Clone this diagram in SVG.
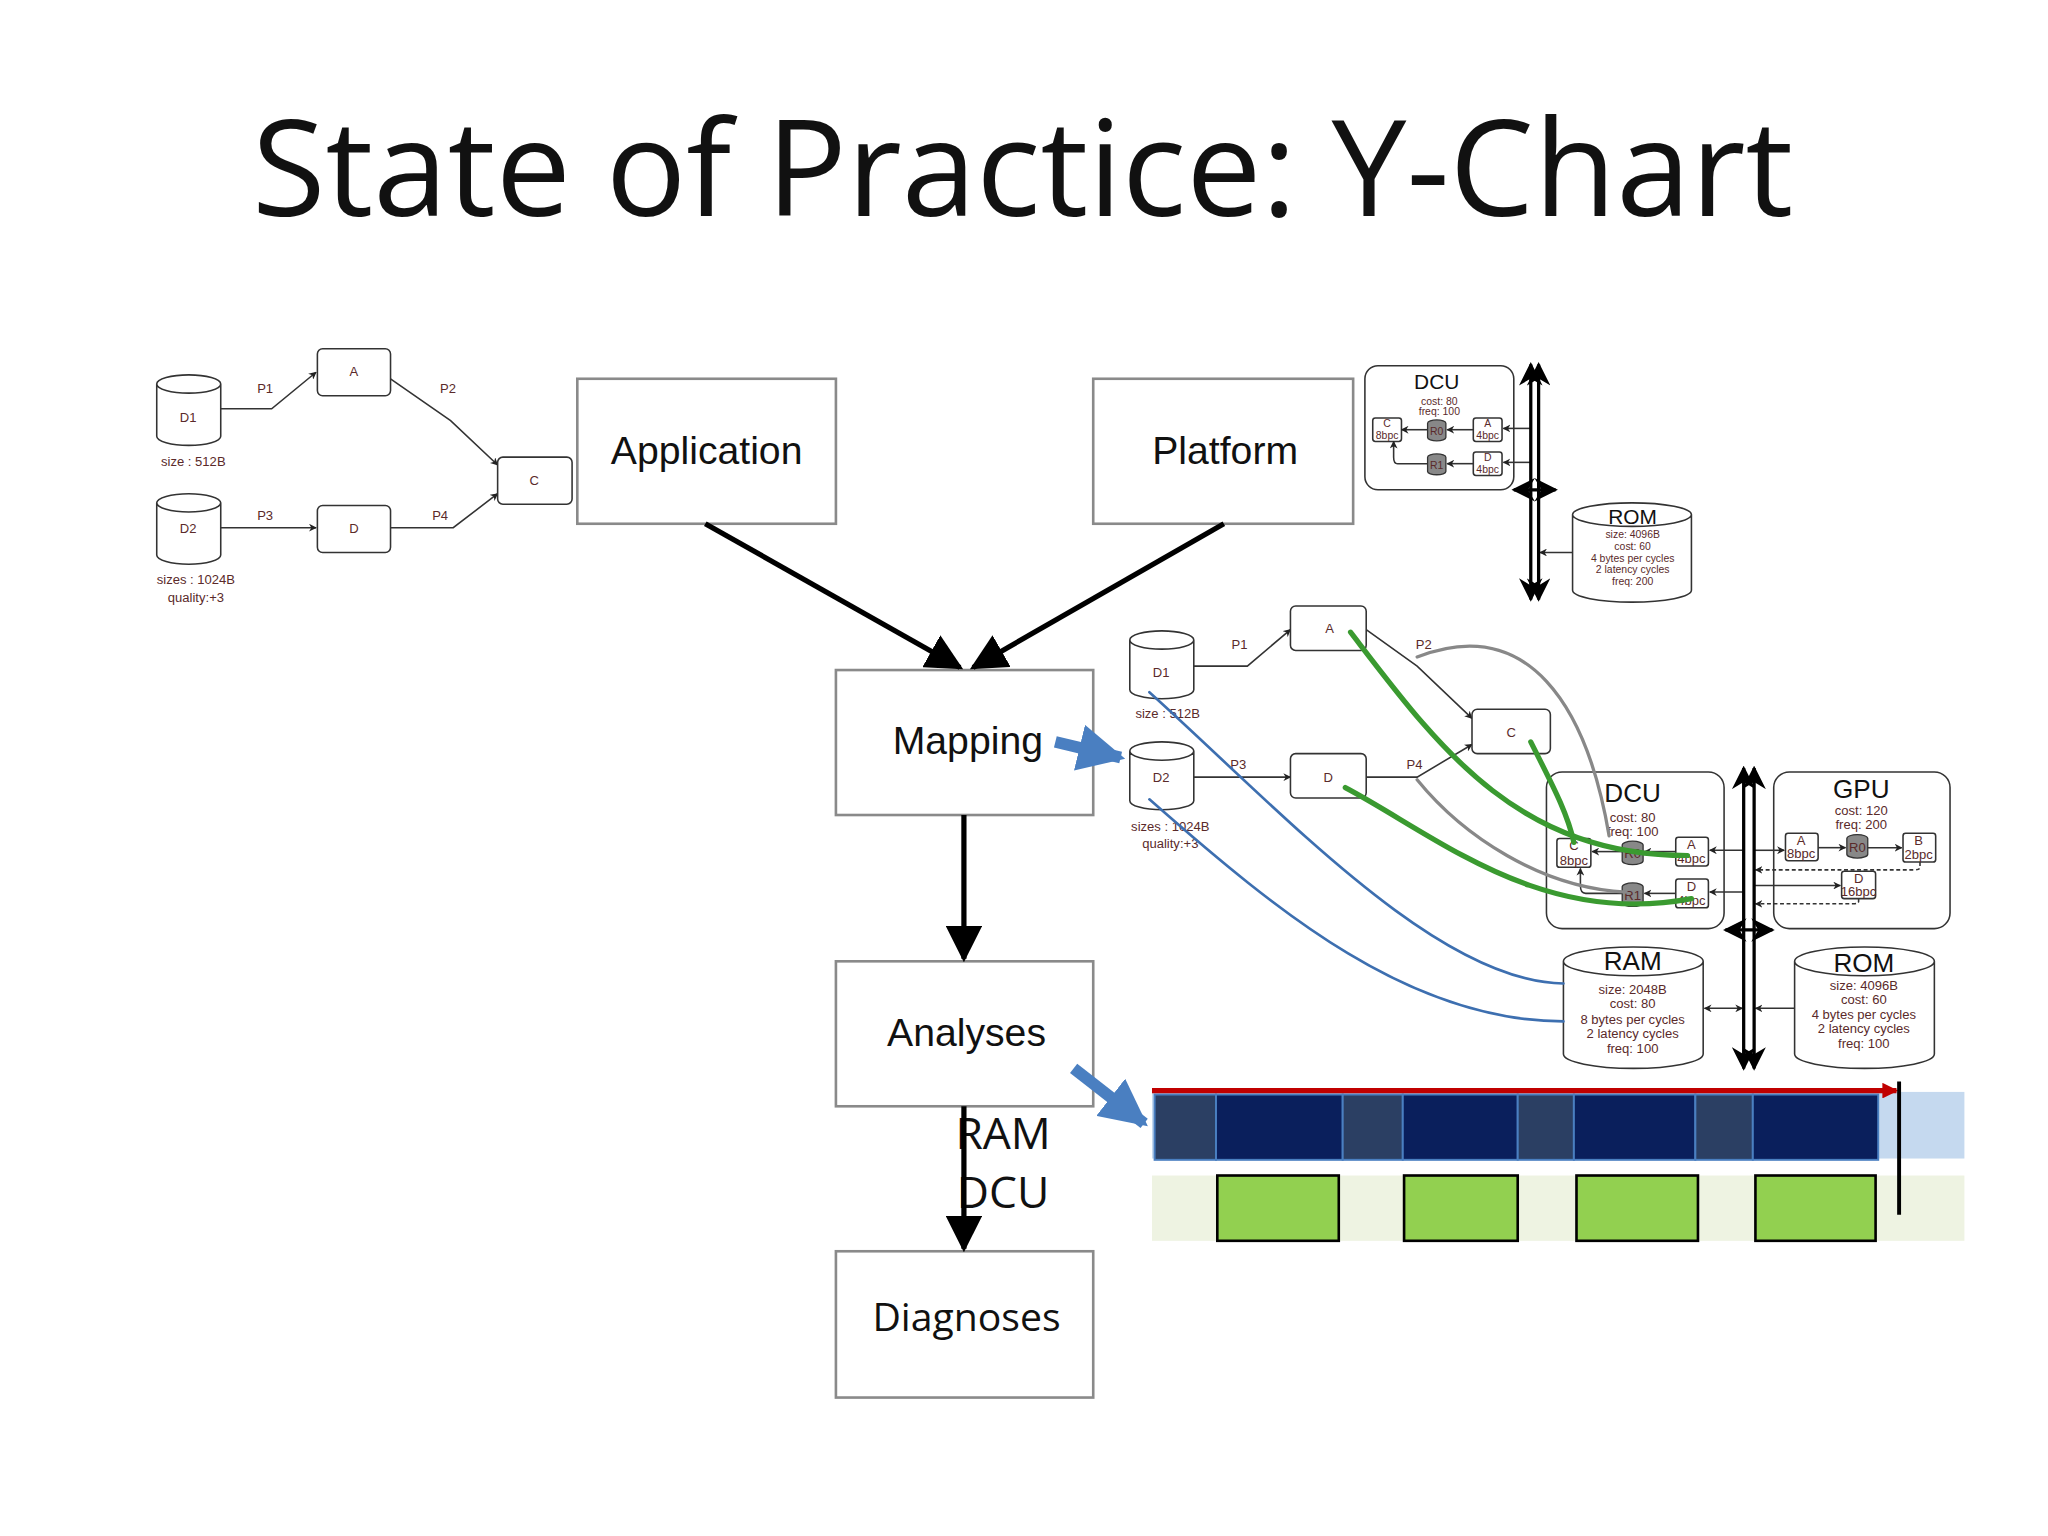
<svg xmlns="http://www.w3.org/2000/svg" width="2048" height="1536" viewBox="0 0 2048 1536">
<style>
.bx{fill:#fff;stroke:#8a8a8a;stroke-width:2}
.big{font-family:"Liberation Sans",Arial,sans-serif;font-size:30px;fill:#111;text-anchor:middle}
.cal{font-family:"Open Sans","Noto Sans",sans-serif;fill:#111;text-anchor:middle}
.sm{font-family:"Liberation Sans",Arial,sans-serif;font-size:10px;fill:#5a2a2a;text-anchor:middle}
.xs{font-family:"Liberation Sans",Arial,sans-serif;font-size:8px;fill:#5a2a2a;text-anchor:middle}
.t{font-family:"Liberation Sans",Arial,sans-serif;fill:#111;text-anchor:middle}
.nd{fill:#fff;stroke:#333;stroke-width:1.2}
.ln{fill:none;stroke:#333;stroke-width:1.2}
.cy{fill:#888;stroke:#333;stroke-width:1}
.bus{stroke:#000;stroke-width:2.5;fill:none}
</style>
<defs>
<marker id="ah" viewBox="0 0 10 10" refX="9" refY="5" markerWidth="6" markerHeight="6" orient="auto-start-reverse" markerUnits="userSpaceOnUse"><path d="M0,0L10,5L0,10L3,5z" fill="#222"/></marker>
<marker id="big" viewBox="0 0 10 10" refX="9" refY="5" markerWidth="7" markerHeight="7" orient="auto" markerUnits="strokeWidth"><path d="M0,0L10,5L0,10z" fill="#000"/></marker>
<marker id="bh" viewBox="0 0 10 10" refX="9" refY="5" markerWidth="18" markerHeight="18" orient="auto-start-reverse" markerUnits="userSpaceOnUse"><path d="M0,0L10,5L0,10L3,5z" fill="#000"/></marker>
<marker id="blu" viewBox="0 0 10 10" refX="9" refY="5" markerWidth="4" markerHeight="4" orient="auto" markerUnits="strokeWidth"><path d="M0,0L10,5L0,10z" fill="#4a7fc1"/></marker>
<marker id="red" viewBox="0 0 10 10" refX="9" refY="5" markerWidth="3" markerHeight="3" orient="auto" markerUnits="strokeWidth"><path d="M0,0L10,5L0,10z" fill="#c00000"/></marker>
</defs>
<rect width="2048" height="1536" fill="#fff"/>
<g transform="scale(1.306122)">
<text x="783" y="165" class="cal" font-size="102" fill="#262626" textLength="1180" lengthAdjust="spacingAndGlyphs">State of Practice: Y-Chart</text>

<g id="application"><rect class="bx" x="442" y="290" width="198" height="111"/><text class="big" x="541" y="355">Application</text></g>
<g id="platform"><rect class="bx" x="837" y="290" width="199" height="111"/><text class="big" x="938" y="355">Platform</text></g>
<g id="mapping"><rect class="bx" x="640" y="513" width="197" height="111"/><text class="big" x="741" y="577">Mapping</text></g>
<g id="analyses"><rect class="bx" x="640" y="736" width="197" height="111"/><text class="big" x="740" y="801">Analyses</text></g>
<g id="diagnoses"><rect class="bx" x="640" y="958" width="197" height="112"/><text class="cal" font-size="30" x="740" y="1019">Diagnoses</text></g>
<text class="cal" font-size="34" x="768" y="880" text-anchor="start">RAM</text>
<text class="cal" font-size="34" x="768" y="925" text-anchor="start">DCU</text>

<g id="connectors">
<line x1="540" y1="401" x2="735" y2="511" stroke="#000" stroke-width="4" marker-end="url(#big)"/>
<line x1="937" y1="401" x2="745" y2="511" stroke="#000" stroke-width="4" marker-end="url(#big)"/>
<line x1="738" y1="624" x2="738" y2="734" stroke="#000" stroke-width="4" marker-end="url(#big)"/>
<line x1="738" y1="847" x2="738" y2="956" stroke="#000" stroke-width="4" marker-end="url(#big)"/>
<line x1="808" y1="568" x2="858" y2="580" stroke="#4a7fc1" stroke-width="9" marker-end="url(#blu)"/>
<line x1="822" y1="818" x2="876" y2="860" stroke="#4a7fc1" stroke-width="9" marker-end="url(#blu)"/>
</g>

<!-- left application graph -->
<g id="app-graph">
<g class="ln">
<path d="M169,313H208L242,285" marker-end="url(#ah)"/>
<path d="M299,290L345,322L381,356" marker-end="url(#ah)"/>
<path d="M169,404H242" marker-end="url(#ah)"/>
<path d="M299,404H347L381,378" marker-end="url(#ah)"/>
</g>
<path class="nd" d="M120,294a24.5,7 0 0 1 49,0v40a24.5,7 0 0 1 -49,0z M120,294a24.5,7 0 0 0 49,0"/>
<path class="nd" d="M120,385a24.5,7 0 0 1 49,0v40a24.5,7 0 0 1 -49,0z M120,385a24.5,7 0 0 0 49,0"/>
<rect class="nd" x="243" y="267" width="56" height="36" rx="4"/>
<rect class="nd" x="381" y="350" width="57" height="36" rx="4"/>
<rect class="nd" x="243" y="387" width="56" height="36" rx="4"/>
<text class="sm" x="144" y="323">D1</text><text class="sm" x="144" y="408">D2</text>
<text class="sm" x="271" y="288">A</text><text class="sm" x="409" y="371">C</text><text class="sm" x="271" y="408">D</text>
<text class="sm" x="148" y="357">size : 512B</text>
<text class="sm" x="150" y="447">sizes : 1024B</text><text class="sm" x="150" y="461">quality:+3</text>
<text class="sm" x="203" y="301">P1</text><text class="sm" x="343" y="301">P2</text>
<text class="sm" x="203" y="398">P3</text><text class="sm" x="337" y="398">P4</text>
</g>

<!-- platform graph -->
<g id="plat-graph">
<rect class="nd" x="1045" y="280" width="114" height="95" rx="10"/>
<text class="t" font-size="16" x="1100" y="298">DCU</text>
<text class="xs" x="1102" y="310">cost: 80</text><text class="xs" x="1102" y="318">freq: 100</text>
<rect class="nd" x="1051" y="320" width="22" height="18" rx="2"/><text class="xs" x="1062" y="327" fill="#111">C</text><text class="xs" x="1062" y="336" fill="#111">8bpc</text>
<rect class="nd" x="1128" y="320" width="22" height="18" rx="2"/><text class="xs" x="1139" y="327" fill="#111">A</text><text class="xs" x="1139" y="336" fill="#111">4bpc</text>
<rect class="nd" x="1128" y="346" width="22" height="18" rx="2"/><text class="xs" x="1139" y="353" fill="#111">D</text><text class="xs" x="1139" y="362" fill="#111">4bpc</text>
<path class="cy" d="M1093,324a7,2.5 0 0 1 14,0v11a7,2.5 0 0 1 -14,0z"/><text class="xs" x="1100" y="333" fill="#111">R0</text>
<path class="cy" d="M1093,350a7,2.5 0 0 1 14,0v11a7,2.5 0 0 1 -14,0z"/><text class="xs" x="1100" y="359" fill="#111">R1</text>
<g class="ln" stroke-width="1">
<path d="M1128,329H1108" marker-end="url(#ah)"/><path d="M1093,329H1073" marker-end="url(#ah)"/>
<path d="M1128,355H1108" marker-end="url(#ah)"/><path d="M1093,355H1070Q1067,355 1067,350V338" marker-end="url(#ah)"/>
<path d="M1172,328H1151" marker-end="url(#ah)"/><path d="M1172,354H1151" marker-end="url(#ah)"/>
<path d="M1204,423H1179" marker-end="url(#ah)"/>
</g>
<line class="bus" x1="1172" y1="279" x2="1172" y2="459" marker-start="url(#bh)" marker-end="url(#bh)"/>
<line class="bus" x1="1178" y1="279" x2="1178" y2="459" marker-start="url(#bh)" marker-end="url(#bh)"/>
<line class="bus" x1="1159" y1="375" x2="1191" y2="375" marker-start="url(#bh)" marker-end="url(#bh)"/>
<path class="nd" d="M1204,394a45.5,9 0 0 1 91,0v58a45.5,9 0 0 1 -91,0z M1204,394a45.5,9 0 0 0 91,0"/>
<text class="t" font-size="16" x="1250" y="401">ROM</text>
<text class="xs" x="1250" y="412">size: 4096B</text><text class="xs" x="1250" y="421">cost: 60</text>
<text class="xs" x="1250" y="430">4 bytes per cycles</text><text class="xs" x="1250" y="439">2 latency cycles</text><text class="xs" x="1250" y="448">freq: 200</text>
</g>

<!-- mapping graph -->
<g id="map-graph">
<g class="ln">
<path d="M914,510H955L988,482" marker-end="url(#ah)"/>
<path d="M1046,482L1085,510L1127,550" marker-end="url(#ah)"/>
<path d="M914,595H988" marker-end="url(#ah)"/>
<path d="M1046,595H1085L1127,570" marker-end="url(#ah)"/>
</g>
<path class="nd" d="M865,490a24.5,7 0 0 1 49,0v38a24.5,7 0 0 1 -49,0z M865,490a24.5,7 0 0 0 49,0"/>
<path class="nd" d="M865,575a24.5,7 0 0 1 49,0v38a24.5,7 0 0 1 -49,0z M865,575a24.5,7 0 0 0 49,0"/>
<rect class="nd" x="988" y="464" width="58" height="34" rx="4"/>
<rect class="nd" x="1127" y="543" width="60" height="34" rx="4"/>
<rect class="nd" x="988" y="577" width="58" height="34" rx="4"/>
<text class="sm" x="889" y="518">D1</text><text class="sm" x="889" y="599">D2</text>
<text class="sm" x="1018" y="485">A</text><text class="sm" x="1157" y="564">C</text><text class="sm" x="1017" y="599">D</text>
<text class="sm" x="894" y="550">size : 512B</text>
<text class="sm" x="896" y="636">sizes : 1024B</text><text class="sm" x="896" y="649">quality:+3</text>
<text class="sm" x="949" y="497">P1</text><text class="sm" x="1090" y="497">P2</text>
<text class="sm" x="948" y="589">P3</text><text class="sm" x="1083" y="589">P4</text>

<!-- DCU -->
<rect class="nd" x="1184" y="591" width="136" height="120" rx="12"/>
<text class="t" font-size="20" x="1250" y="614">DCU</text>
<text class="sm" x="1250" y="629">cost: 80</text><text class="sm" x="1250" y="640">freq: 100</text>
<rect class="nd" x="1192" y="642" width="26" height="22" rx="2"/><text class="sm" x="1205" y="651" fill="#111">C</text><text class="sm" x="1205" y="662" fill="#111">8bpc</text>
<rect class="nd" x="1283" y="641" width="25" height="22" rx="2"/><text class="sm" x="1295" y="650" fill="#111">A</text><text class="sm" x="1295" y="661" fill="#111">4bpc</text>
<rect class="nd" x="1283" y="673" width="25" height="22" rx="2"/><text class="sm" x="1295" y="682" fill="#111">D</text><text class="sm" x="1295" y="693" fill="#111">4bpc</text>
<path class="cy" d="M1242,647a8,3 0 0 1 16,0v12a8,3 0 0 1 -16,0z"/><text class="sm" x="1250" y="657" fill="#111">R0</text>
<path class="cy" d="M1242,679a8,3 0 0 1 16,0v12a8,3 0 0 1 -16,0z"/><text class="sm" x="1250" y="689" fill="#111">R1</text>
<!-- GPU -->
<rect class="nd" x="1358" y="591" width="135" height="120" rx="12"/>
<text class="t" font-size="20" x="1425" y="611">GPU</text>
<text class="sm" x="1425" y="624">cost: 120</text><text class="sm" x="1425" y="635">freq: 200</text>
<rect class="nd" x="1367" y="638" width="25" height="21" rx="2"/><text class="sm" x="1379" y="647" fill="#111">A</text><text class="sm" x="1379" y="657" fill="#111">8bpc</text>
<rect class="nd" x="1457" y="638" width="25" height="22" rx="2"/><text class="sm" x="1469" y="647" fill="#111">B</text><text class="sm" x="1469" y="658" fill="#111">2bpc</text>
<rect class="nd" x="1410" y="667" width="26" height="21" rx="2"/><text class="sm" x="1423" y="676" fill="#111">D</text><text class="sm" x="1423" y="686" fill="#111">16bpc</text>
<path class="cy" d="M1414,642a8,3 0 0 1 16,0v12a8,3 0 0 1 -16,0z"/><text class="sm" x="1422" y="652" fill="#111">R0</text>
<g class="ln" stroke-width="1">
<path d="M1283,652H1259" marker-end="url(#ah)"/><path d="M1242,652H1219" marker-end="url(#ah)"/>
<path d="M1283,684H1259" marker-end="url(#ah)"/><path d="M1242,684H1214Q1210,684 1210,678V665" marker-end="url(#ah)"/>
<path d="M1335,651H1309" marker-end="url(#ah)"/><path d="M1335,683H1309" marker-end="url(#ah)"/>
<path d="M1343,651H1366" marker-end="url(#ah)"/><path d="M1392,649H1413" marker-end="url(#ah)"/><path d="M1430,649H1456" marker-end="url(#ah)"/>
<path d="M1470,660V664Q1470,666 1466,666H1344" stroke-dasharray="3,2" marker-end="url(#ah)"/>
<path d="M1343,678H1409" marker-end="url(#ah)"/>
<path d="M1423,688V690Q1423,692 1419,692H1344" stroke-dasharray="3,2" marker-end="url(#ah)"/>
<path d="M1305,772H1334" marker-start="url(#ah)" marker-end="url(#ah)"/>
<path d="M1374,772H1344" marker-end="url(#ah)"/>
</g>
<line class="bus" x1="1335" y1="588" x2="1335" y2="818" marker-start="url(#bh)" marker-end="url(#bh)"/>
<line class="bus" x1="1343" y1="588" x2="1343" y2="818" marker-start="url(#bh)" marker-end="url(#bh)"/>
<line class="bus" x1="1321" y1="712" x2="1357" y2="712" marker-start="url(#bh)" marker-end="url(#bh)"/>
<!-- RAM / ROM -->
<path class="nd" d="M1197,736a53.5,11 0 0 1 107,0v71a53.5,11 0 0 1 -107,0z M1197,736a53.5,11 0 0 0 107,0"/>
<text class="t" font-size="20" x="1250" y="743">RAM</text>
<text class="sm" x="1250" y="761">size: 2048B</text><text class="sm" x="1250" y="772">cost: 80</text>
<text class="sm" x="1250" y="784">8 bytes per cycles</text><text class="sm" x="1250" y="795">2 latency cycles</text><text class="sm" x="1250" y="806">freq: 100</text>
<path class="nd" d="M1374,736a53.5,11 0 0 1 107,0v71a53.5,11 0 0 1 -107,0z M1374,736a53.5,11 0 0 0 107,0"/>
<text class="t" font-size="20" x="1427" y="744">ROM</text>
<text class="sm" x="1427" y="758">size: 4096B</text><text class="sm" x="1427" y="769">cost: 60</text>
<text class="sm" x="1427" y="780">4 bytes per cycles</text><text class="sm" x="1427" y="791">2 latency cycles</text><text class="sm" x="1427" y="802">freq: 100</text>
<!-- overlays -->
<g fill="none" stroke-linecap="round">
<path d="M1085,503C1170,470 1215,540 1232,640" stroke="#888" stroke-width="2.5"/>
<path d="M1085,597C1120,640 1180,680 1245,683" stroke="#888" stroke-width="2.5"/>
<path d="M1034,484C1100,570 1160,655 1292,655" stroke="#3a9a30" stroke-width="4"/>
<path d="M1172,568C1188,600 1200,622 1205,645" stroke="#3a9a30" stroke-width="4"/>
<path d="M1030,603C1100,640 1180,710 1295,688" stroke="#3a9a30" stroke-width="4"/>
<path d="M880,530C980,620 1100,752 1197,753" stroke="#3d6fb0" stroke-width="2"/>
<path d="M880,612C980,700 1080,782 1197,782" stroke="#3d6fb0" stroke-width="2"/>
</g>
</g>

<!-- timeline -->
<g id="timeline">
<rect x="882" y="836" width="622" height="51" fill="#c5d9ef"/>
<rect x="882" y="900" width="622" height="50" fill="#eef3e2"/>
<g stroke="#4a7fc1" stroke-width="1.5">
<rect x="884" y="838" width="47" height="50" fill="#2b3f63"/>
<rect x="931" y="838" width="97" height="50" fill="#0a1f5c"/>
<rect x="1028" y="838" width="46" height="50" fill="#2b3f63"/>
<rect x="1074" y="838" width="88" height="50" fill="#0a1f5c"/>
<rect x="1162" y="838" width="43" height="50" fill="#2b3f63"/>
<rect x="1205" y="838" width="93" height="50" fill="#0a1f5c"/>
<rect x="1298" y="838" width="44" height="50" fill="#2b3f63"/>
<rect x="1342" y="838" width="96" height="50" fill="#0a1f5c"/>
</g>
<g fill="#92d050" stroke="#000" stroke-width="2">
<rect x="932" y="900" width="93" height="50"/>
<rect x="1075" y="900" width="87" height="50"/>
<rect x="1207" y="900" width="93" height="50"/>
<rect x="1344" y="900" width="92" height="50"/>
</g>
<line x1="882" y1="835" x2="1452" y2="835" stroke="#c00000" stroke-width="4" marker-end="url(#red)"/>
<line x1="1454" y1="828" x2="1454" y2="930" stroke="#000" stroke-width="3"/>
</g>
</g>
</svg>
